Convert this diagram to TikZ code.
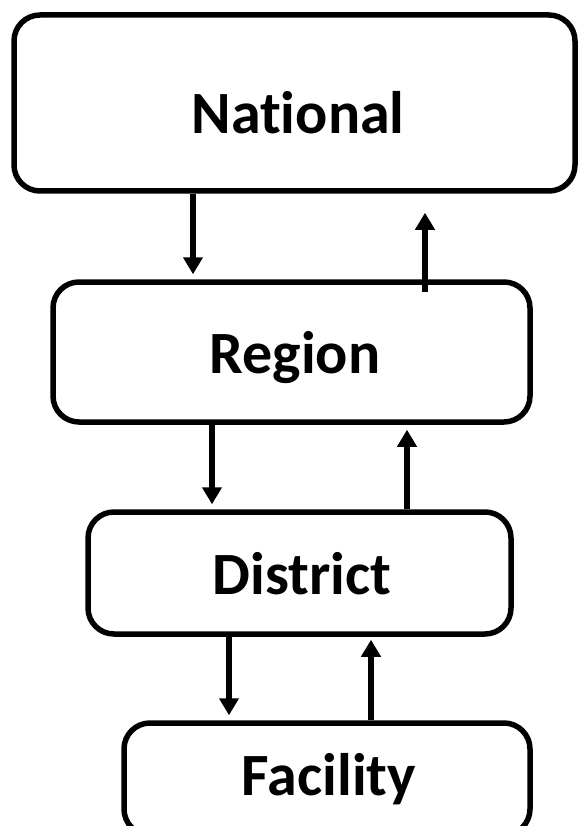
\documentclass[tikz,border=0pt]{standalone}
\usepackage{fontspec}
\setmainfont[Ligatures=NoCommon]{Carlito}
\usetikzlibrary{arrows.meta}
\tikzset{
  levelbox/.style={draw=black, line width=5.5pt, rounded corners=26pt, fill=white, inner sep=0pt},
  leveltext/.style={anchor=base, inner sep=0pt, font=\bfseries\fontsize{60}{72}\selectfont},
  flow/.style={line width=5.5pt, -{Triangle[length=17pt,width=19pt]}}
}
\begin{document}
\begin{tikzpicture}[x=1pt,y=-1pt]
\clip (0,0) rectangle (581,826);
\fill[white] (0,0) rectangle (581,826);
\node[levelbox, minimum width=561pt, minimum height=176pt] (national) at (294.5,103) {};
\node[levelbox, minimum width=477pt, minimum height=140pt] (region) at (291.5,352) {};
\node[levelbox, minimum width=423pt, minimum height=122pt] (district) at (299.5,573) {};
\node[levelbox, minimum width=406pt, minimum height=112pt] (facility) at (327,779) {};
\node[leveltext] (tnational) at (298,134) {National};
\node[leveltext] (tregion) at (295,373) {Region};
\node[leveltext] (tdistrict) at (302,594) {District};
\node[leveltext] (tfacility) at (329,795) {Facility};
\draw[flow] ([xshift=-101.5pt]national.south) -- ([xshift=-98.5pt,yshift=5pt]region.north);
\draw[flow] ([xshift=133.5pt,yshift=-13pt]region.north) -- ([xshift=130.5pt,yshift=-19pt]national.south);
\draw[flow] ([xshift=-79.5pt]region.south) -- ([xshift=-87.5pt,yshift=5pt]district.north);
\draw[flow] ([xshift=107.5pt]district.north) -- ([xshift=115.5pt,yshift=-5pt]region.south);
\draw[flow] ([xshift=-70.5pt]district.south) -- ([xshift=-98pt,yshift=5pt]facility.north);
\draw[flow] ([xshift=44pt]facility.north) -- ([xshift=71.5pt,yshift=-3pt]district.south);
\end{tikzpicture}
\end{document}
